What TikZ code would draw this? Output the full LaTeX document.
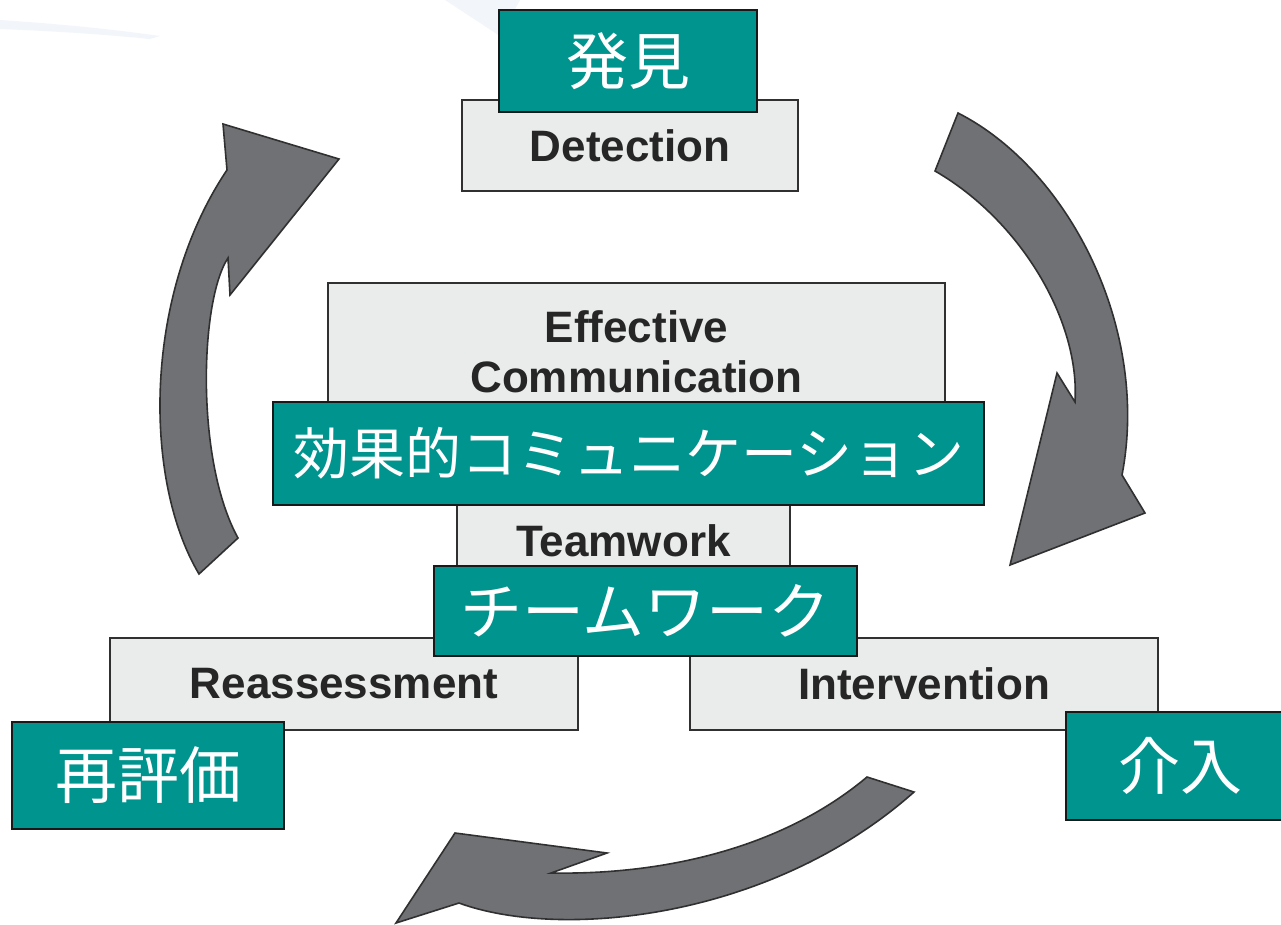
\documentclass[tikz,border=0pt]{standalone}
\usepackage{fontspec}
\setmainfont{Liberation Sans}
\newfontfamily\jpfont{Noto Sans CJK JP}

\definecolor{tealbox}{RGB}{0,148,143}
\definecolor{greybox}{RGB}{234,236,236}
\definecolor{arrowgrey}{RGB}{112,113,117}
\definecolor{edgegrey}{RGB}{48,48,48}
\definecolor{haze}{RGB}{242,245,249}

\tikzset{
    engbox/.style={draw=edgegrey, line width=2.4pt, fill=greybox, inner sep=0pt,
        text=black!85, align=center, font=\fontsize{44}{50}\selectfont\bfseries},
    jpbox/.style={draw=black!90, line width=2pt, fill=tealbox, inner sep=0pt,
        text=white, font=\jpfont\fontsize{62}{70}\selectfont},
    cyclearrow/.style={draw=edgegrey, line width=1.6pt, fill=arrowgrey, line join=miter},
}

\begin{document}
\begin{tikzpicture}[x=1pt, y=-1pt]
    \useasboundingbox (0,0) rectangle (1281,924);
    \clip (0,0) rectangle (1281,924);
    \fill[white] (0,0) rectangle (1281,924);

    % faint streaks in the background
    \fill[haze] (0,20) .. controls (60,24) and (110,29) .. (160,36) -- (150,39) .. controls (100,34) and (50,31) .. (0,29) -- cycle;
    \fill[haze] (445,0) -- (520,0) -- (500,36) -- cycle;

    % the three arrows of the cycle
    \path[cyclearrow] (199,574) .. controls (143,480) and (143,295) .. (227,170)
        -- (223,124) -- (339,159) -- (230,295) -- (228,258)
        .. controls (200,300) and (195,460) .. (238,538) -- cycle;
    \path[cyclearrow] (958,113) .. controls (1070,170) and (1150,330) .. (1122,475)
        -- (1145,513) -- (1010,565) -- (1057,373) -- (1075,402)
        .. controls (1080,320) and (1020,220) .. (935,171) -- cycle;
    \path[cyclearrow] (914,792) .. controls (770,920) and (560,940) .. (459,903)
        -- (396,923) -- (455,833) -- (607,853) -- (551,873)
        .. controls (660,875) and (780,850) .. (867,777) -- cycle;

    % grey boxes
    \node[engbox, minimum width=336pt, minimum height=91pt] (detection) at (630,145.5) {Detection};
    \node[engbox, minimum width=617pt, minimum height=137pt] (communication) at (636.5,351.5) {Effective\\Communication};
    \node[engbox, minimum width=333pt, minimum height=120pt] (teamwork) at (623.5,541) {Teamwork};
    \node[engbox, minimum width=468pt, minimum height=92pt] (reassessment) at (344,684) {Reassessment};
    \node[engbox, minimum width=468pt, minimum height=92pt] (intervention) at (924,684) {Intervention};

    % teal labels
    \node[jpbox, minimum width=258pt, minimum height=102pt] (hakken) at (628,61) {発見};
    \node[jpbox, minimum width=711pt, minimum height=103pt, font=\jpfont\fontsize{56}{64}\selectfont] (kouka) at (628.5,453.5) {効果的コミュニケーション};
    \node[jpbox, minimum width=423pt, minimum height=90pt] (chiimu) at (645.5,611) {チームワーク};
    \node[jpbox, minimum width=272pt, minimum height=107pt] (saihyouka) at (148,775.5) {再評価};
    \node[jpbox, minimum width=228pt, minimum height=108pt] (kainyuu) at (1180,766) {介入};
\end{tikzpicture}
\end{document}
